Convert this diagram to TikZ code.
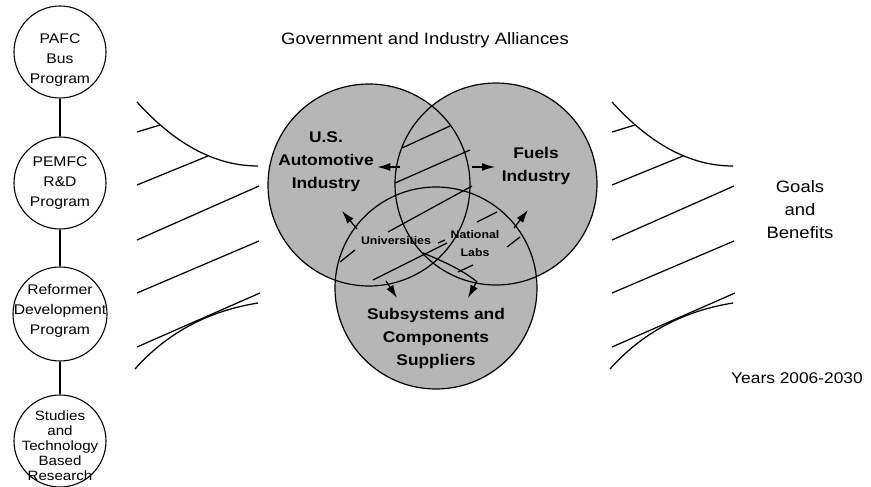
\documentclass[tikz,border=0pt]{standalone}
\usepackage{fontspec}
\setmainfont{Liberation Sans}[FakeStretch=1.12]
\usepackage{tikz}
\usetikzlibrary{arrows.meta, positioning}
\definecolor{venngray}{RGB}{182, 182, 182}

\begin{document}
\begin{tikzpicture}[x=1pt, y=-1pt,
    program/.style={circle, draw, line width=1.1pt, minimum size=92pt, inner sep=0pt},
    progtext/.style={align=center, font=\fontsize{14}{20}\selectfont},
    venn/.style={circle, fill=venngray, minimum size=202pt, inner sep=0pt},
    member/.style={align=center, font=\fontsize{15.5}{23}\selectfont\bfseries},
    partner/.style={align=center, font=\fontsize{11}{18}\selectfont\bfseries},
    caption/.style={align=center, font=\fontsize{16.5}{23}\selectfont},
    hatch/.style={line width=1.25pt},
    flow/.style={line width=1.2pt, -{Latex[length=13pt, width=8pt]}}
]
    \useasboundingbox (0,0) rectangle (871,487);

    % Program chain
    \node[program] (pafc) at (60,52) {};
    \node[progtext] at ([yshift=-8pt]pafc.center) {PAFC\\Bus\\Program};
    \node[program] (pemfc) at (60,183) {};
    \node[progtext] at (pemfc.center) {PEMFC\\R\&D\\Program};
    \node[program, minimum size=94pt] (reformer) at (60,314) {};
    \node[progtext] at ([yshift=3pt]reformer.center) {Reformer\\Development\\Program};
    \node[program] (studies) at (60,441) {};
    \node[progtext, font=\fontsize{13.5}{15}\selectfont] at ([yshift=-5pt]studies.center) {Studies\\and\\Technology\\Based\\Research};

    \draw[line width=1.1pt] (pafc) -- (pemfc);
    \draw[line width=1.1pt] (pemfc) -- (reformer);
    \draw[line width=1.1pt] (reformer) -- (studies);

    % Fans on both sides of the alliances
    \foreach \dx in {0,475} {
        \begin{scope}[xshift=\dx]
            \draw[hatch] (137,102) .. controls (176,145) and (216,166) .. (258,166);
            \draw[hatch] (137,132) -- (160,125);
            \draw[hatch] (137,185) -- (208,156);
            \draw[hatch] (137,240) -- (259,186);
            \draw[hatch] (137,293) -- (259,241);
            \draw[hatch] (137,347) -- (260,293);
            \draw[hatch] (135,369) .. controls (167,333) and (208,311) .. (258,303);
        \end{scope}
    }

    % Alliance circles
    \node[venn] (auto) at (369,185) {};
    \node[venn] (fuels) at (496,184) {};
    \node[venn] (supp) at (436,288) {};
    \foreach \c in {auto, fuels, supp}
        \draw[line width=1.2pt] (\c.center) circle[radius=101pt];

    % Hatching through the overlaps
    \draw[hatch] (402,148) -- (450,126);
    \draw[hatch] (395,183) -- (470,150);
    \draw[hatch] (388,232) -- (472,186);
    \draw[hatch] (373,280) -- (447,243);
    \draw[hatch] (477,222) -- (497,212);
    \draw[hatch] (507,247) -- (520,237);
    \draw[hatch] (458,272) -- (473,265);
    \draw[hatch] (340,262) -- (355,250);
    \draw[hatch] (438,243) -- (445,240);
    \draw[hatch] (423,253) .. controls (445,262) and (462,270) .. (476,281);

    % Labels
    \node[member] (autolbl) at (326,162) {U.S.\\Automotive\\Industry};
    \node[member] (fuelslbl) at (536,166) {Fuels\\Industry};
    \node[member] (supplbl) at (436,338) {Subsystems and\\Components\\Suppliers};
    \node[partner] (univ) at (396,241) {Universities};
    \node[partner] (labs) at (475,244) {National\\Labs};

    % Flows between partners
    \coordinate (lensw) at (400,167);
    \coordinate (lense) at (472,167);
    \coordinate (lowl) at (357,229);
    \coordinate (lowr) at (514,228);
    \coordinate (univs) at (386,281);
    \coordinate (labss) at (477,281);
    \draw[flow] (lensw) -- (autolbl.east |- lensw);
    \draw[flow] (lense) -- ++(23,0) coordinate (fuelsin);
    \draw[flow] (lowl) -- ++(-15,-18) coordinate (autoin);
    \draw[flow] (lowr) -- ++(14,-18) coordinate (fuelsdn);
    \draw[flow] (univs) -- ++(11,17) coordinate (suppl);
    \draw[flow] (labss) -- ++(-9,17) coordinate (suppr);

    % Captions
    \node[caption] (title) at (425,40) {Government and Industry Alliances};
    \node[caption, font=\fontsize{16.5}{23}\selectfont] (goals) at (800,210) {Goals\\and\\Benefits};
    \node[caption, font=\fontsize{15.5}{20}\selectfont] (years) at (797,378) {Years 2006-2030};
\end{tikzpicture}
\end{document}
